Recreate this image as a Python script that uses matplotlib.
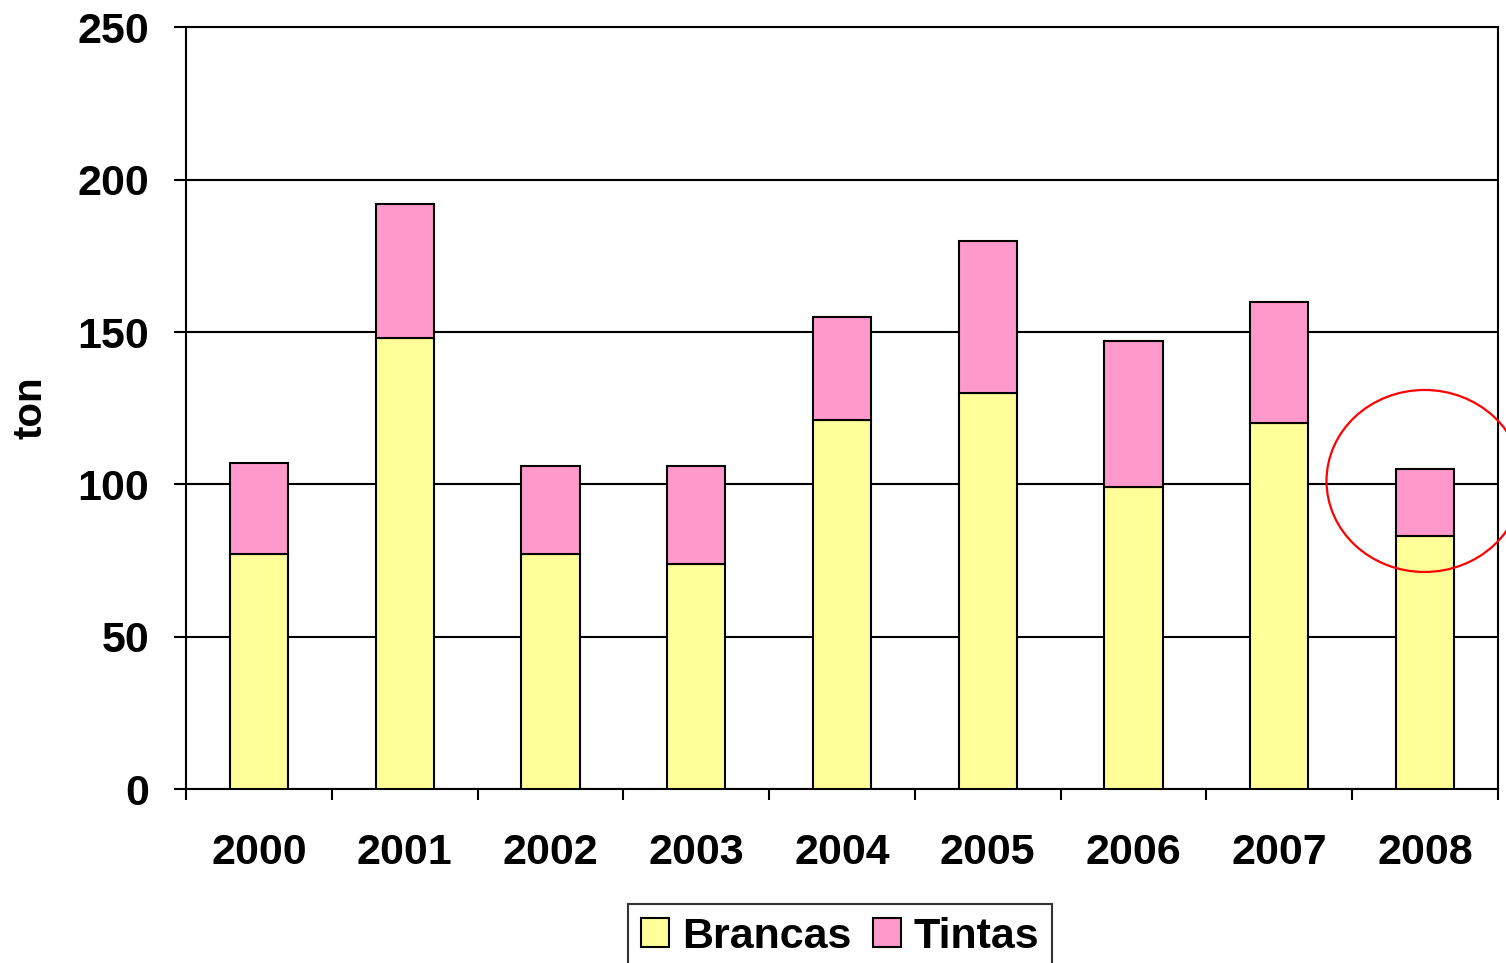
import matplotlib
matplotlib.use("Agg")
import matplotlib.pyplot as plt
from matplotlib.patches import Ellipse
import numpy as np

years = ["2000", "2001", "2002", "2003", "2004", "2005", "2006", "2007", "2008"]
brancas = [77, 148, 77, 74, 121, 130, 99, 120, 83]
tintas = [30, 44, 29, 32, 34, 50, 48, 40, 22]
y_ticks = [0, 50, 100, 150, 200, 250]

plt.rcParams['font.family'] = ['Liberation Sans', 'DejaVu Sans']
plt.rcParams['font.weight'] = 'bold'

fig = plt.figure(figsize=(15.06, 9.63), dpi=100)
ax = fig.add_axes([186/1506, 1-789/963, (1498-186)/1506, (789-27.5)/963])

x = np.arange(len(years))
yellow = '#FFFF99'
pink = '#FF99CC'
ax.bar(x, brancas, width=0.40, color=yellow, edgecolor='black', linewidth=1.5, label='Brancas', zorder=3)
ax.bar(x, tintas, bottom=brancas, width=0.40, color=pink, edgecolor='black', linewidth=1.5, label='Tintas', zorder=3)

ax.set_xlim(-0.5, len(years) - 0.5)
ax.set_ylim(0, 250)
ax.set_yticks(y_ticks)
ax.set_yticklabels([str(v) for v in y_ticks], fontsize=31, fontweight='bold')
ax.yaxis.grid(True, color='black', linewidth=1.5, zorder=0)
ax.set_axisbelow(True)

ax.set_xticks(x)
ax.set_xticklabels(years, fontsize=31, fontweight='bold')
ax.set_xticks(np.arange(-0.5, len(years) + 0.5, 1), minor=True)
ax.tick_params(axis='x', which='major', length=0, pad=32)
ax.tick_params(axis='x', which='minor', length=8, width=1.5, color='black')
ax.tick_params(axis='y', which='major', length=8.6, width=1.5, pad=18)

for s in ax.spines.values():
    s.set_color('black')
    s.set_linewidth(1.5)

fig.text(30/1506, 1-408/963, 'ton', rotation=90, ha='center', va='center',
         fontsize=29, fontweight='bold')

circ = Ellipse((0.944, 0.4045), 0.1494, 0.239, transform=ax.transAxes,
               fill=False, edgecolor='red', linewidth=1.6, clip_on=False, zorder=5)
ax.add_patch(circ)

leg = fig.legend(loc='upper center', bbox_to_anchor=(840/1506, 1-904/963), ncol=2,
                 fontsize=31, frameon=True, fancybox=False, edgecolor='black',
                 handlelength=0.65, handleheight=0.65, handletextpad=0.3,
                 columnspacing=0.5, borderpad=0.3, borderaxespad=0)
leg.get_frame().set_linewidth(1.5)
for t in leg.get_texts():
    t.set_fontweight('bold')

fig.savefig('out.png', dpi=100)
